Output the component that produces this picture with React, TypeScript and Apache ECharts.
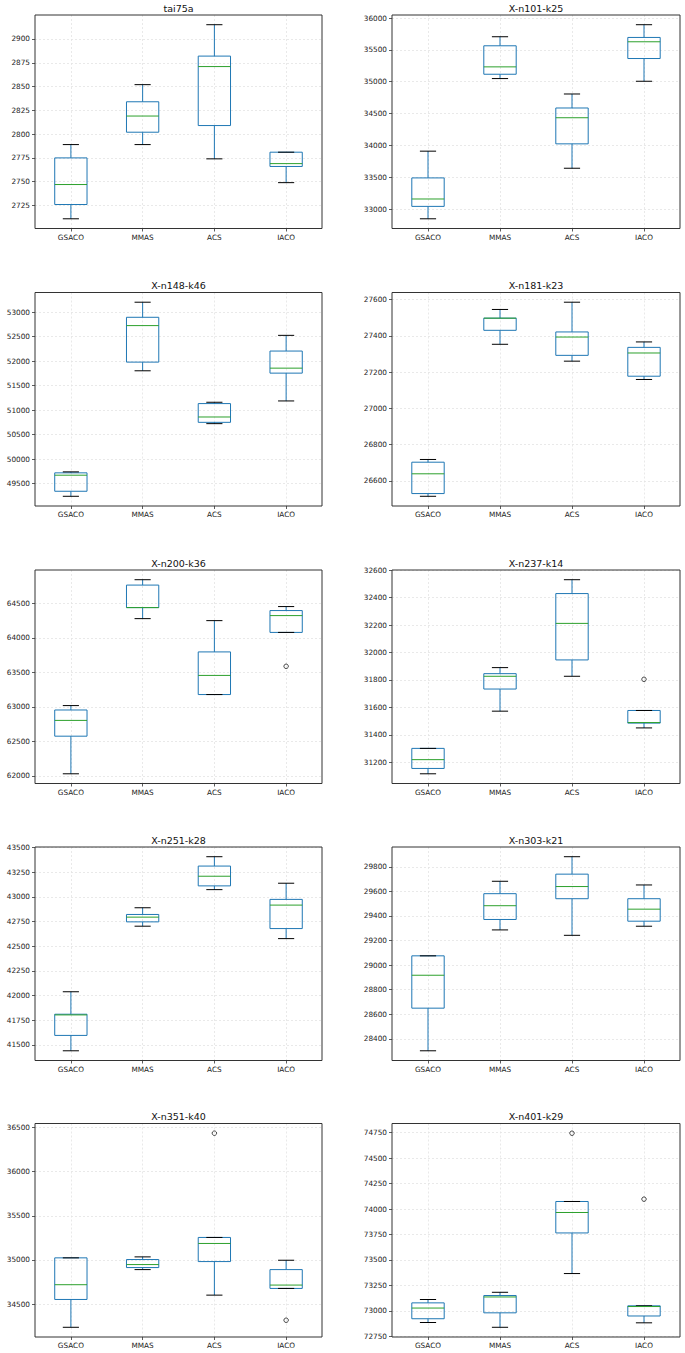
import React, { useEffect, useRef } from "react";
import * as echarts from "echarts";

// ---------------- data ----------------
const categories = ["GSACO", "MMAS", "ACS", "IACO"];

// each row: [min, Q1, median, Q3, max] for GSACO, MMAS, ACS, IACO
const tai75a = [
  [2711, 2726, 2747, 2775, 2789],
  [2789, 2802, 2819, 2834, 2852],
  [2774, 2809, 2871, 2882, 2915],
  [2749, 2766, 2769, 2781, 2781],
];
const xn101k25 = [
  [32847, 33042, 33158, 33489, 33909],
  [35049, 35117, 35233, 35564, 35706],
  [33641, 34024, 34434, 34587, 34807],
  [35007, 35364, 35627, 35695, 35895],
];
const xn148k46 = [
  [49240, 49343, 49671, 49719, 49739],
  [51804, 51981, 52727, 52897, 53205],
  [50724, 50751, 50860, 51134, 51161],
  [51188, 51756, 51858, 52207, 52528],
];
const xn181k23 = [
  [26515, 26530, 26639, 26703, 26718],
  [27353, 27430, 27497, 27497, 27545],
  [27260, 27292, 27393, 27421, 27585],
  [27159, 27177, 27305, 27336, 27366],
];
const xn200k36 = [
  [62029, 62575, 62804, 62955, 63019],
  [64281, 64441, 64441, 64768, 64846],
  [63179, 63179, 63457, 63798, 64252],
  [64081, 64081, 64325, 64398, 64456],
];
const xn237k14 = [
  [31117, 31156, 31220, 31302, 31302],
  [31573, 31734, 31827, 31846, 31890],
  [31827, 31946, 32212, 32429, 32530],
  [31451, 31486, 31490, 31578, 31578],
];
const xn251k28 = [
  [41439, 41595, 41803, 41810, 42038],
  [42703, 42747, 42795, 42822, 42890],
  [43074, 43112, 43210, 43313, 43408],
  [42577, 42679, 42917, 42975, 43139],
];
const xn303k21 = [
  [28302, 28649, 28917, 29075, 29075],
  [29286, 29371, 29483, 29581, 29682],
  [29242, 29540, 29639, 29740, 29882],
  [29316, 29357, 29455, 29540, 29652],
];
const xn351k40 = [
  [34238, 34553, 34720, 35024, 35024],
  [34891, 34914, 34948, 35005, 35035],
  [34602, 34982, 35187, 35255, 35255],
  [34678, 34678, 34716, 34891, 34997],
];
const xn401k29 = [
  [72885, 72922, 73027, 73078, 73111],
  [72838, 72980, 73136, 73150, 73182],
  [73366, 73765, 73966, 74074, 74074],
  [72882, 72949, 73042, 73049, 73049],
];

// outliers: [category index, value]
const outXn200k36 = [[3, 63589]];
const outXn237k14 = [[3, 31805]];
const outXn351k40 = [[2, 36435], [3, 34318]];
const outXn401k29 = [[2, 74745], [3, 74097]];

// y tick labels
const ticksTai75a = [2725, 2750, 2775, 2800, 2825, 2850, 2875, 2900];
const ticksXn101 = [33000, 33500, 34000, 34500, 35000, 35500, 36000];
const ticksXn148 = [49500, 50000, 50500, 51000, 51500, 52000, 52500, 53000];
const ticksXn181 = [26600, 26800, 27000, 27200, 27400, 27600];
const ticksXn200 = [62000, 62500, 63000, 63500, 64000, 64500];
const ticksXn237 = [31200, 31400, 31600, 31800, 32000, 32200, 32400, 32600];
const ticksXn251 = [41500, 41750, 42000, 42250, 42500, 42750, 43000, 43250, 43500];
const ticksXn303 = [28400, 28600, 28800, 29000, 29200, 29400, 29600, 29800];
const ticksXn351 = [34500, 35000, 35500, 36000, 36500];
const ticksXn401 = [72750, 73000, 73250, 73500, 73750, 74000, 74250, 74500, 74750];

const panels = [
  { title: "tai75a", boxes: tai75a, outliers: [] as number[][], ticks: ticksTai75a },
  { title: "X-n101-k25", boxes: xn101k25, outliers: [] as number[][], ticks: ticksXn101 },
  { title: "X-n148-k46", boxes: xn148k46, outliers: [] as number[][], ticks: ticksXn148 },
  { title: "X-n181-k23", boxes: xn181k23, outliers: [] as number[][], ticks: ticksXn181 },
  { title: "X-n200-k36", boxes: xn200k36, outliers: outXn200k36, ticks: ticksXn200 },
  { title: "X-n237-k14", boxes: xn237k14, outliers: outXn237k14, ticks: ticksXn237 },
  { title: "X-n251-k28", boxes: xn251k28, outliers: [] as number[][], ticks: ticksXn251 },
  { title: "X-n303-k21", boxes: xn303k21, outliers: [] as number[][], ticks: ticksXn303 },
  { title: "X-n351-k40", boxes: xn351k40, outliers: outXn351k40, ticks: ticksXn351 },
  { title: "X-n401-k29", boxes: xn401k29, outliers: outXn401k29, ticks: ticksXn401 },
];

// ---------------- layout / style ----------------
const ROW_TOPS = [15, 292.5, 570, 847, 1123.5];
const GRID_H = 213.5;
const COL_LEFT = [35, 392];
const COL_W = [287, 288];
const FONT = "'DejaVu Sans', 'Liberation Sans', sans-serif";
const BLUE = "#1f77b4";
const GREEN = "#2ca02c";
const CAP = "#000000";
const FRAME = "#333333";
const GRIDLINE = { color: "#e3e3e3", type: [2, 2] as number[], width: 0.8 };

const renderBox = (params: any, api: any) => {
  const x = api.value(0);
  const ys = [1, 2, 3, 4, 5].map((d) => api.coord([x, api.value(d)])[1]);
  const cx = api.coord([x, api.value(1)])[0];
  const bw = api.size([0.45, 0])[0];
  const hw = bw / 2;
  const cw = bw / 4;
  const [pMin, pQ1, pMed, pQ3, pMax] = ys;
  return {
    type: "group",
    children: [
      { type: "line", shape: { x1: cx, y1: pQ1, x2: cx, y2: pMin }, style: { stroke: BLUE, lineWidth: 1 } },
      { type: "line", shape: { x1: cx, y1: pQ3, x2: cx, y2: pMax }, style: { stroke: BLUE, lineWidth: 1 } },
      {
        type: "rect",
        shape: { x: cx - hw, y: pQ3, width: bw, height: pQ1 - pQ3 },
        style: { stroke: BLUE, fill: "none", lineWidth: 1 },
      },
      { type: "line", shape: { x1: cx - cw, y1: pMin, x2: cx + cw, y2: pMin }, style: { stroke: CAP, lineWidth: 1 } },
      { type: "line", shape: { x1: cx - cw, y1: pMax, x2: cx + cw, y2: pMax }, style: { stroke: CAP, lineWidth: 1 } },
      { type: "line", shape: { x1: cx - hw, y1: pMed, x2: cx + hw, y2: pMed }, style: { stroke: GREEN, lineWidth: 1 } },
    ],
  };
};

export default function App() {
  const ref = useRef<HTMLDivElement>(null);
  useEffect(() => {
    if (!ref.current) return;
    const chart = echarts.init(ref.current, null, { renderer: "svg" });
    const grids: any[] = [];
    const xAxes: any[] = [];
    const yAxes: any[] = [];
    const series: any[] = [];
    const graphics: any[] = [];
    const catPos = categories.map((_, k) => k + 1);

    panels.forEach((p, i) => {
      const col = i % 2;
      const row = Math.floor(i / 2);
      const left = COL_LEFT[col];
      const width = COL_W[col];
      const top = ROW_TOPS[row];
      grids.push({
        left,
        top,
        width,
        height: GRID_H,
        show: false,
        containLabel: false,
      });
      const all = p.boxes.flat().concat(p.outliers.map((o) => o[1]));
      const lo = Math.min(...all);
      const hi = Math.max(...all);
      const pad = (hi - lo) * 0.05;
      xAxes.push({
        type: "value",
        gridIndex: i,
        min: 0.5,
        max: 4.5,
        axisLine: { show: false },
        axisTick: { show: true, customValues: catPos, length: 3, lineStyle: { color: FRAME, width: 0.8 } },
        axisLabel: {
          customValues: catPos,
          formatter: (v: number) => categories[Math.round(v) - 1] ?? "",
          fontSize: 7.3,
          fontFamily: FONT,
          color: "#222",
          margin: 5,
        },
        splitLine: { show: true, lineStyle: GRIDLINE },
      });
      yAxes.push({
        type: "value",
        gridIndex: i,
        min: lo - pad,
        max: hi + pad,
        axisLine: { show: false },
        axisTick: { show: true, customValues: p.ticks, length: 3, lineStyle: { color: FRAME, width: 0.8 } },
        axisLabel: {
          customValues: p.ticks,
          formatter: (v: number) => String(Math.round(v)),
          fontSize: 7.3,
          fontFamily: FONT,
          color: "#222",
          margin: 5,
        },
        splitLine: { show: true, lineStyle: GRIDLINE },
      });
      series.push({
        type: "custom",
        xAxisIndex: i,
        yAxisIndex: i,
        renderItem: renderBox,
        encode: { x: 0, y: [1, 2, 3, 4, 5] },
        data: p.boxes.map((b, k) => [catPos[k], ...b]),
        clip: false,
        z: 3,
      });
      if (p.outliers.length) {
        series.push({
          type: "scatter",
          xAxisIndex: i,
          yAxisIndex: i,
          data: p.outliers.map((o) => [catPos[o[0]], o[1]]),
          symbol: "circle",
          symbolSize: 4.5,
          itemStyle: { color: "rgba(0,0,0,0)", borderColor: "#000", borderWidth: 0.9 },
          z: 4,
        });
      }
      // axes frame (drawn above grid lines)
      graphics.push({
        type: "rect",
        z: 100,
        silent: true,
        shape: { x: left, y: top, width, height: GRID_H },
        style: { fill: "none", stroke: FRAME, lineWidth: 1 },
      });
      graphics.push({
        type: "text",
        x: left + width / 2,
        y: top - 6.7,
        style: {
          text: p.title,
          fill: "#111",
          font: `9.5px ${FONT}`,
          textAlign: "center",
          textVerticalAlign: "middle",
        },
      });
    });

    chart.setOption({
      animation: false,
      backgroundColor: "#ffffff",
      grid: grids,
      xAxis: xAxes,
      yAxis: yAxes,
      series,
      graphic: graphics,
    });
    return () => chart.dispose();
  }, []);
  return (
    <div
      ref={ref}
      style={{ position: "absolute", left: 0, top: 0, width: 685, height: 1353, background: "#fff" }}
    />
  );
}
